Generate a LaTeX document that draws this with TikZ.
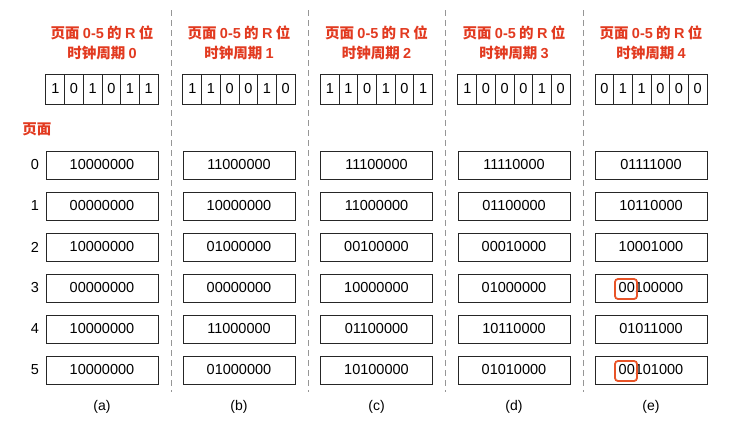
\documentclass[tikz,border=0pt]{standalone}
\usepackage{fontspec}
\setmainfont{Liberation Sans}
\newfontfamily\cjk{Noto Sans CJK SC}
\usetikzlibrary{positioning}
\definecolor{titlered}{RGB}{226,58,32}
\definecolor{hl}{RGB}{232,84,40}
\definecolor{sep}{RGB}{150,150,150}
\newcommand{\lt}[1]{{\rmfamily\bfseries #1}}
\begin{document}
\begin{tikzpicture}[x=1pt,y=-1pt,
  regbox/.style={draw=black!85,line width=1pt,minimum width=112pt,minimum height=28pt,inner sep=0pt,font=\fontsize{14.5}{16}\selectfont},
  bitcell/.style={draw=black!85,line width=1pt,minimum width=18.67pt,minimum height=30pt,inner sep=0pt,font=\fontsize{14.5}{16}\selectfont},
  titletext/.style={text=titlered,font=\cjk\bfseries\fontsize{14.5}{20.5}\selectfont,align=center},
  rowlabel/.style={font=\fontsize{14.5}{16}\selectfont},
  sublabel/.style={font=\fontsize{14}{16}\selectfont},
  seprule/.style={draw=sep,line width=0.8pt,dash pattern=on 6pt off 4pt},
  hlbox/.style={draw=hl,line width=1.8pt,rounded corners=3pt,minimum width=22pt,minimum height=20pt,inner sep=0pt}
]
\useasboundingbox[fill=white] (0,0) rectangle (745,431);

% separators
\foreach \i/\x in {1/171,2/308,3/445,4/583}{
  \coordinate (st\i) at (\x,10);
  \coordinate (sb\i) at (\x,392);
  \draw[seprule] (st\i) -- (sb\i);
}

% page label
\node[text=titlered,font=\cjk\bfseries\fontsize{14.5}{16}\selectfont] (pagelabel) at (37,129) {页面};

% row labels
\foreach \r in {0,...,5}{
  \node[rowlabel] (rl\r) at (35,{165+41*\r}) {\r};
}

% columns
\foreach \c/\cx/\cyc/\bits/\rows/\lab in {
  a/102/0/{1,0,1,0,1,1}/{10000000,00000000,10000000,00000000,10000000,10000000}/(a),
  b/239/1/{1,1,0,0,1,0}/{11000000,10000000,01000000,00000000,11000000,01000000}/(b),
  c/376.5/2/{1,1,0,1,0,1}/{11100000,11000000,00100000,10000000,01100000,10100000}/(c),
  d/514/3/{1,0,0,0,1,0}/{11110000,01100000,00010000,01000000,10110000,01010000}/(d),
  e/651/4/{0,1,1,0,0,0}/{01111000,10110000,10001000,00100000,01011000,00101000}/(e)}{
  \node[titletext] (title\c) at (\cx,43) {页面 \lt{0-5} 的 \lt{R} 位\\时钟周期 \lt{\cyc}};
  \foreach \b [count=\k from 0] in \bits {
    \node[bitcell] (bit\c\k) at ({\cx-56+18.67*\k+9.33},89) {\b};
  }
  \foreach \v [count=\k from 0] in \rows {
    \node[regbox] (reg\c\k) at (\cx,{165+41*\k}) {\v};
  }
  \node[sublabel] (sub\c) at (\cx,407) {\lab};
}

% highlights
\node[hlbox] (hl3) at (626,289) {};
\node[hlbox] (hl5) at (626,371) {};
\end{tikzpicture}
\end{document}
